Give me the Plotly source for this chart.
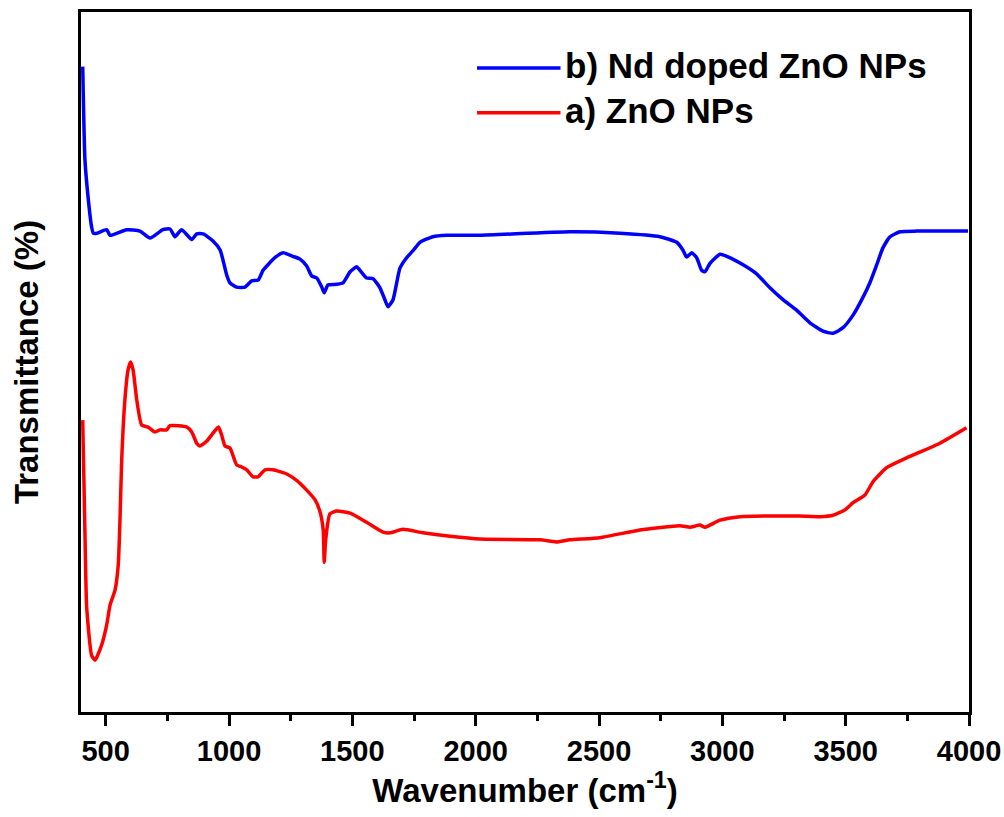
import plotly.graph_objects as go

# Nd doped ZnO NPs (blue)
wn_b = [407, 416, 430, 443, 450, 465, 504, 518, 585, 639, 680, 732, 761, 781, 808, 849, 869, 895,
        935, 964, 991, 1004, 1031, 1065, 1092, 1118, 1138, 1158, 1186, 1219, 1259, 1288, 1315, 1335,
        1356, 1376, 1386, 1401, 1437, 1462, 1491, 1518, 1531, 1558, 1584, 1612, 1632, 1645, 1665,
        1693, 1720, 1746, 1774, 1827, 1883, 2018, 2382, 2585, 2747, 2815, 2840, 2855, 2876, 2896,
        2916, 2930, 2950, 2991, 3018, 3084, 3139, 3193, 3246, 3301, 3355, 3408, 3449, 3489, 3530,
        3571, 3599, 3626, 3651, 3680, 3720, 3788, 3996]
t_b = [92.2, 78.9, 73.1, 69.3, 68.4, 68.4, 68.9, 68.1, 68.9, 68.7, 67.7, 68.9, 69.0, 67.9, 68.9, 67.5, 68.3, 68.3,
       67.3, 66.0, 62.4, 61.3, 60.7, 60.7, 61.6, 61.7, 63.1, 63.9, 64.9, 65.6, 65.1, 64.7, 63.7, 62.3,
       62.0, 60.7, 59.9, 61.0, 61.1, 61.3, 62.9, 63.6, 63.1, 62.0, 61.9, 60.6, 58.9, 57.9, 58.9,
       63.4, 64.9, 65.9, 67.1, 67.9, 68.1, 68.1, 68.6, 68.4, 67.9, 67.1, 66.0, 65.0, 65.6, 64.9,
       63.1, 62.9, 64.1, 65.4, 65.1, 63.9, 62.6, 60.6, 58.9, 57.4, 55.6, 54.4, 54.1, 54.9, 56.7,
       59.3, 61.4, 63.9, 66.3, 67.9, 68.6, 68.7, 68.7]

# ZnO NPs (red)
wn_a = [407, 416, 423, 443, 457, 484, 504, 518, 538, 551, 558, 565, 578, 591, 601, 611, 626, 646, 672,
        700, 720, 747, 761, 829, 849, 869, 882, 910, 930, 957, 970, 984, 1004, 1031, 1051, 1072, 1097,
        1118, 1146, 1178, 1234, 1274, 1315, 1349, 1369, 1382, 1386, 1392, 1409, 1437, 1491, 1558,
        1624, 1653, 1705, 1786, 1896, 2018, 2261, 2326, 2382, 2504, 2666, 2828, 2869, 2909, 2930,
        2991, 3072, 3205, 3314, 3396, 3449, 3498, 3530, 3578, 3611, 3666, 3747, 3882, 3990]
t_a = [41.7, 25.6, 15.0, 8.1, 7.4, 9.6, 12.4, 15.3, 17.4, 21.0, 27.4, 36.0, 44.6, 48.9, 50.0, 48.9, 44.6, 41.0, 40.7,
       40.0, 40.3, 40.3, 40.9, 40.7, 40.0, 38.4, 38.0, 38.7, 39.6, 40.7, 39.6, 38.0, 37.7, 35.3, 35.0, 34.6, 33.6,
       33.6, 34.6, 34.6, 34.0, 33.1, 31.7, 30.3, 28.6, 26.0, 21.4, 24.6, 28.3, 28.7, 28.4, 27.1,
       25.7, 25.6, 26.1, 25.6, 25.1, 24.7, 24.6, 24.3, 24.6, 24.9, 26.0, 26.6, 26.4, 26.7, 26.4,
       27.4, 27.9, 28.0, 28.0, 27.9, 28.1, 28.9, 29.9, 31.0, 32.9, 34.9, 36.3, 38.4, 40.6]

names = ["b) Nd doped ZnO NPs", "a) ZnO NPs"]
colors = ["#0000ff", "#ff0000"]
x_ticks = [500, 1000, 1500, 2000, 2500, 3000, 3500, 4000]

FONT = "Liberation Sans, Arial, sans-serif"

fig = go.Figure()
fig.add_trace(go.Scatter(x=wn_b, y=t_b, mode="lines", name=names[0],
                         line=dict(color=colors[0], width=3.5, shape="spline", smoothing=0.5)))
fig.add_trace(go.Scatter(x=wn_a, y=t_a, mode="lines", name=names[1],
                         line=dict(color=colors[1], width=3.5, shape="spline", smoothing=0.5)))

# Manual legend (long line samples like the original)
legend_y = [0.920, 0.856]
for i in range(2):
    fig.add_shape(type="line", xref="paper", yref="paper",
                  x0=0.446, x1=0.540, y0=legend_y[i], y1=legend_y[i],
                  line=dict(color=colors[i], width=3.5))
    fig.add_annotation(xref="paper", yref="paper", x=0.543, y=legend_y[i] + 0.004,
                       text="<b>%s</b>" % names[i], showarrow=False,
                       xanchor="left", yanchor="middle",
                       font=dict(family=FONT, size=35, color="black"))

fig.update_layout(
    width=1004, height=817,
    margin=dict(l=81, r=35, t=12, b=105, autoexpand=False),
    paper_bgcolor="white", plot_bgcolor="white",
    showlegend=False,
    font=dict(family=FONT, color="black"),
)
fig.update_xaxes(
    range=[400, 4000], tickvals=x_ticks, ticktext=[str(v) for v in x_ticks],
    ticks="outside", ticklen=11, tickwidth=3, tickcolor="black",
    minor=dict(dtick=250, tick0=250, ticks="outside", ticklen=6, tickwidth=3, tickcolor="black"),
    showline=True, linewidth=3, linecolor="black", mirror=True,
    showgrid=False, zeroline=False, automargin=False,
    tickfont=dict(family=FONT, size=29, color="black", weight="bold"),
    title=dict(text="<b>Wavenumber (cm<sup>-1</sup>)</b>", standoff=10,
               font=dict(family=FONT, size=33, color="black")),
)
fig.update_yaxes(
    range=[0, 100], showticklabels=False, ticks="",
    showline=True, linewidth=3, linecolor="black", mirror=True,
    showgrid=False, zeroline=False, automargin=False,
    title=dict(text="<b>Transmittance (%)</b>", standoff=30,
               font=dict(family=FONT, size=33, color="black")),
)

fig.write_html("out.html")
